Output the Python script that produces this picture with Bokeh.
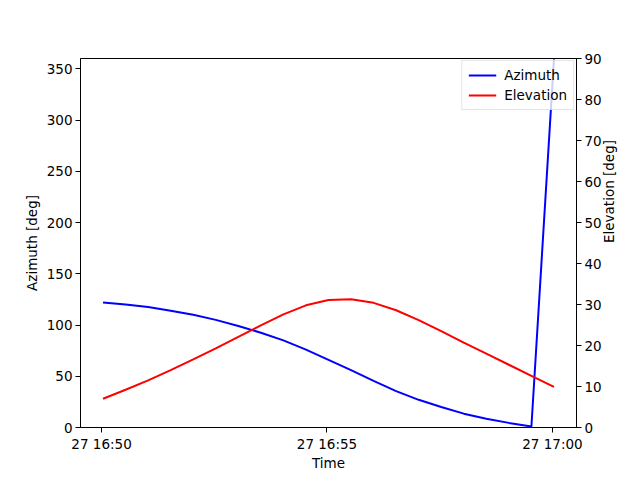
import math
import pandas as pd
from bokeh.plotting import figure
from bokeh.models import (Range1d, LinearAxis, FixedTicker, DatetimeTickFormatter,
                          Legend, LegendItem)
from bokeh.embed import file_html
from bokeh.resources import INLINE

# ---- data ----
day = "2024-06-27 "
times = ["16:50:02", "16:50:32", "16:51:02", "16:51:32", "16:52:02", "16:52:32",
         "16:53:02", "16:53:32", "16:54:02", "16:54:32", "16:55:02", "16:55:32",
         "16:56:02", "16:56:32", "16:57:02", "16:57:32", "16:58:02", "16:58:32",
         "16:59:02", "16:59:32", "17:00:02"]
azimuth = [122, 120, 117.5, 114, 110, 105, 99, 92.5, 85, 76, 66, 56, 45.5, 35.5,
           27, 20, 13.5, 8.5, 4.5, 1, 359]
elevation = [7.0, 9.2, 11.5, 14.0, 16.6, 19.3, 22.1, 24.9, 27.6, 29.8, 31.1, 31.3,
             30.4, 28.6, 26.2, 23.5, 20.7, 18.0, 15.3, 12.6, 9.9]
x_ticks = ["16:50:00", "16:55:00", "17:00:00"]
x_start, x_end = "16:49:32", "17:00:32"

t = pd.to_datetime([day + s for s in times])
tick_ms = [pd.Timestamp(day + s).value // 10**6 for s in x_ticks]
xs = pd.Timestamp(day + x_start).value // 10**6
xe = pd.Timestamp(day + x_end).value // 10**6

FONT = "DejaVu Sans"
FS = "13.5px"

p = figure(width=640, height=480, x_axis_type="datetime", output_backend="svg",
           toolbar_location=None, x_range=Range1d(xs, xe), y_range=Range1d(0, 360),
           min_border_left=80, min_border_right=64, min_border_top=58,
           min_border_bottom=53)
p.extra_y_ranges = {"elev": Range1d(0, 90)}

p.xgrid.visible = False
p.ygrid.visible = False
p.outline_line_color = "black"
p.outline_line_width = 1
p.background_fill_color = "white"
p.border_fill_color = "white"

r_az = p.line(t, azimuth, line_color="blue", line_width=2)
r_el = p.line(t, elevation, line_color="red", line_width=2, y_range_name="elev")

right = LinearAxis(y_range_name="elev", axis_label="Elevation [deg]")
p.add_layout(right, "right")

p.xaxis.ticker = FixedTicker(ticks=tick_ms)
p.xaxis.formatter = DatetimeTickFormatter(seconds="%d %H:%M", minsec="%d %H:%M",
                                          minutes="%d %H:%M", hourmin="%d %H:%M",
                                          hours="%d %H:%M")
p.xaxis.axis_label = "Time"
p.yaxis[0].axis_label = "Azimuth [deg]"
p.yaxis[0].ticker = FixedTicker(ticks=list(range(0, 351, 50)))
right.ticker = FixedTicker(ticks=list(range(0, 91, 10)))

for ax in [p.xaxis[0], p.yaxis[0], right]:
    ax.major_label_text_font = FONT
    ax.major_label_text_font_size = FS
    ax.major_label_text_color = "black"
    ax.axis_label_text_font = FONT
    ax.axis_label_text_font_size = FS
    ax.axis_label_text_font_style = "normal"
    ax.axis_label_text_color = "black"
    ax.axis_line_color = "black"
    ax.major_tick_line_color = "black"
    ax.major_tick_out = 5
    ax.major_tick_in = 0
    ax.minor_tick_line_color = None
    ax.major_label_standoff = 3
    ax.axis_label_standoff = 4
p.xaxis[0].axis_label_standoff = 0

if "axis_label_orientation" in right.properties():
    right.axis_label_orientation = math.pi / 2
right.axis_label_text_align = "center"

legend = Legend(items=[LegendItem(label="Azimuth", renderers=[r_az]),
                       LegendItem(label="Elevation", renderers=[r_el])],
                location="top_right", orientation="vertical")
legend.label_text_font = FONT
legend.label_text_font_size = FS
legend.label_text_color = "black"
legend.glyph_width = 28
legend.glyph_height = 14
legend.label_standoff = 8
legend.spacing = 4
legend.padding = 6
legend.margin = 2
legend.border_line_color = "#cccccc"
legend.background_fill_alpha = 0.8
p.add_layout(legend, "center")

open("out.html", "w").write(file_html(p, INLINE))
